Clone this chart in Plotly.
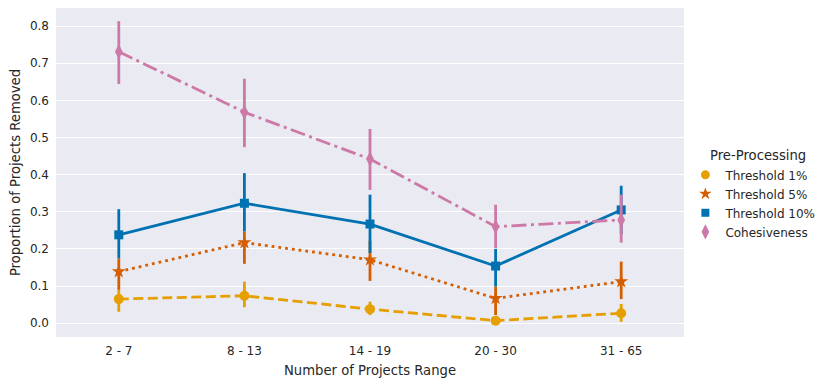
import plotly.graph_objects as go

categories = ["2 - 7", "8 - 13", "14 - 19", "20 - 30", "31 - 65"]

t1_mean = [0.065, 0.074, 0.038, 0.007, 0.027]
t1_low = [0.031, 0.043, 0.022, 0.000, 0.004]
t1_high = [0.090, 0.112, 0.058, 0.015, 0.052]

t5_mean = [0.139, 0.217, 0.171, 0.067, 0.112]
t5_low = [0.090, 0.160, 0.114, 0.022, 0.065]
t5_high = [0.175, 0.247, 0.222, 0.099, 0.166]

t10_mean = [0.238, 0.323, 0.267, 0.154, 0.305]
t10_low = [0.175, 0.247, 0.189, 0.099, 0.240]
t10_high = [0.307, 0.404, 0.346, 0.200, 0.370]

coh_mean = [0.731, 0.568, 0.442, 0.260, 0.278]
coh_low = [0.644, 0.474, 0.359, 0.202, 0.217]
coh_high = [0.813, 0.658, 0.523, 0.319, 0.346]

series = [
    ("Threshold 1%", t1_mean, t1_low, t1_high, "#e69f00", "circle", "10px,4.5px", 10, 9),
    ("Threshold 5%", t5_mean, t5_low, t5_high, "#d55e00", "star", "2.8px,4px", 10.5, 9.5),
    ("Threshold 10%", t10_mean, t10_low, t10_high, "#0072b2", "square", "solid", 9, 8),
    ("Cohesiveness", coh_mean, coh_low, coh_high, "#cc79a7", "diamond-tall", "15px,4.5px,3px,4.5px", 11, 11),
]

FONT = "DejaVu Sans"
fig = go.Figure()
for name, m, lo, hi, col, sym, dash, ms, lms in series:
    fig.add_trace(go.Scatter(
        x=categories, y=m, mode="lines+markers", showlegend=False,
        line=dict(color=col, width=2.8, dash=dash),
        marker=dict(symbol=sym, size=ms, color=col),
        error_y=dict(type="data", symmetric=False,
                     array=[h - v for h, v in zip(hi, m)],
                     arrayminus=[v - l for v, l in zip(m, lo)],
                     color=col, thickness=2.8, width=0),
    ))
for name, m, lo, hi, col, sym, dash, ms, lms in series:
    fig.add_trace(go.Scatter(
        x=[None], y=[None], mode="markers", name=name,
        marker=dict(symbol=sym, size=lms, color=col),
    ))

fig.add_annotation(text="Pre-Processing", xref="paper", yref="paper",
                   x=1.0378, y=0.551, xanchor="left", yanchor="middle",
                   showarrow=False, font=dict(size=13.2, family=FONT, color="#262626"))

fig.update_layout(
    width=822, height=378,
    margin=dict(l=48, r=146, t=0, b=49),
    paper_bgcolor="white", plot_bgcolor="#eaeaf2",
    font=dict(family=FONT, size=12, color="#262626"),
    legend=dict(x=1.0022, xanchor="left", y=0.537, yanchor="top",
                font=dict(size=12), bgcolor="rgba(0,0,0,0)",
                itemwidth=30, tracegroupgap=0),
    xaxis=dict(type="category", range=[-0.5, 4.5], showgrid=False, zeroline=False,
               ticks="", ticklabelstandoff=5,
               title=dict(text="Number of Projects Range", font=dict(size=13.2), standoff=8),
               tickfont=dict(size=12)),
    yaxis=dict(range=[-0.037, 0.8485], dtick=0.1, tickformat=".1f", gridcolor="white",
               gridwidth=1.3, zeroline=False, ticks="", ticklabelstandoff=6,
               title=dict(text="Proportion of Projects Removed", font=dict(size=13.2), standoff=7),
               tickfont=dict(size=12)),
)
fig.write_html("out.html")
